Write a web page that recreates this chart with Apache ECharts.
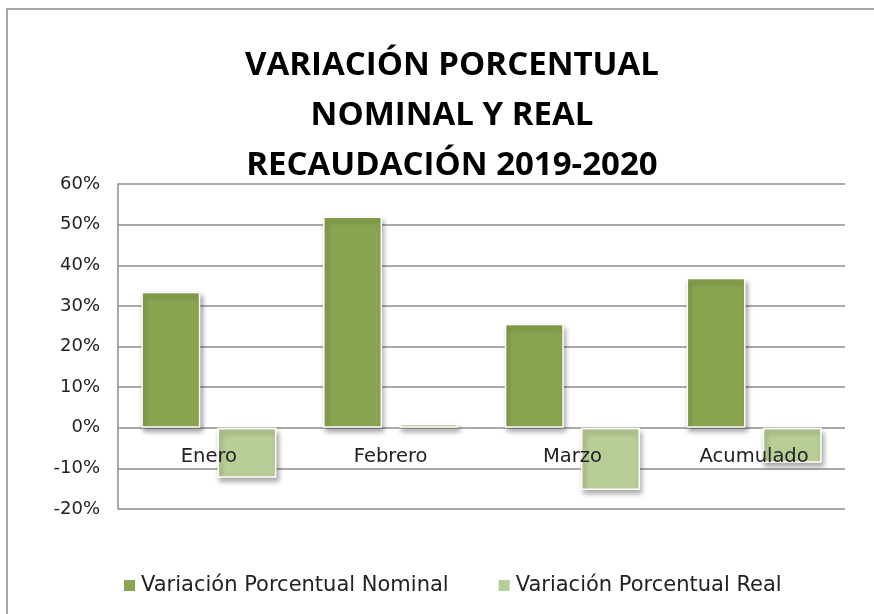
<!DOCTYPE html>
<html>
<head>
<meta charset="utf-8">
<script src="https://cdn.jsdelivr.net/npm/echarts@6/dist/echarts.min.js"></script>
<style>html,body{margin:0;padding:0;background:#fff;}#c{width:874px;height:614px;}</style>
</head>
<body>
<div id="c"></div>
<script>
var categories = ['Enero', 'Febrero', 'Marzo', 'Acumulado'];
var nominal = [33.5, 52.0, 25.6, 36.9];
var real = [-12.3, 1.0, -15.3, -8.6];
var yTicks = {min: -20, max: 60, interval: 10};
var titleText = 'VARIACIÓN PORCENTUAL\nNOMINAL Y REAL\nRECAUDACIÓN 2019-2020';
var seriesNames = ['Variación Porcentual Nominal', 'Variación Porcentual Real'];

var gridTop = 184, gridBottom = 105, chartH = 614;
var gridH = chartH - gridTop - gridBottom;
var zeroOffset = -(0 - yTicks.min) / (yTicks.max - yTicks.min) * gridH;

var chart = echarts.init(document.getElementById('c'), null, {renderer: 'canvas'});
var labelFont = '"DejaVu Sans", sans-serif';
var gridColor = '#8e8e8e';
var barShadow = {shadowBlur: 5, shadowOffsetX: 2, shadowOffsetY: 4, shadowColor: 'rgba(0,0,0,0.35)'};
chart.setOption({
  animation: false,
  backgroundColor: '#fff',
  graphic: [{
    type: 'rect', shape: {x: 7, y: 9, width: 900, height: 700},
    style: {fill: 'none', stroke: '#8a8a8a', lineWidth: 1.5}, z: -1
  }],
  title: {
    text: titleText, left: 447, top: 36, textAlign: 'center',
    textStyle: {fontFamily: '"Open Sans", sans-serif', fontWeight: 'bold', fontSize: 33, lineHeight: 50, color: '#000'}
  },
  legend: {
    bottom: 13, left: 117, itemGap: 48, itemWidth: 13, itemHeight: 13, icon: 'rect',
    textStyle: {fontFamily: labelFont, fontSize: 21, color: '#222'},
    data: seriesNames
  },
  grid: {left: 118, right: 29, top: gridTop, bottom: gridBottom, containLabel: false},
  xAxis: {
    type: 'category', data: categories, z: 10, offset: zeroOffset,
    axisLine: {show: false, onZero: false},
    axisTick: {show: false},
    axisLabel: {margin: 19, fontFamily: labelFont, fontSize: 19.5, color: '#222'}
  },
  yAxis: {
    type: 'value', min: yTicks.min, max: yTicks.max, interval: yTicks.interval,
    axisLine: {show: true, lineStyle: {color: gridColor, width: 1.5}},
    axisTick: {show: false},
    splitLine: {lineStyle: {color: gridColor, width: 1.5}},
    axisLabel: {formatter: '{value}%', margin: 18, fontFamily: labelFont, fontSize: 18, color: '#222'}
  },
  series: [{
    name: seriesNames[0], type: 'bar', data: nominal, barWidth: 59, barGap: '29%',
    itemStyle: Object.assign({color: '#8aa550', borderColor: '#fff', borderWidth: 1.5}, barShadow)
  }, {
    name: seriesNames[1], type: 'bar', data: real, barWidth: 59,
    itemStyle: Object.assign({color: '#b9cd96', borderColor: '#fff', borderWidth: 1.5}, barShadow)
  }]
});
</script>
</body>
</html>
